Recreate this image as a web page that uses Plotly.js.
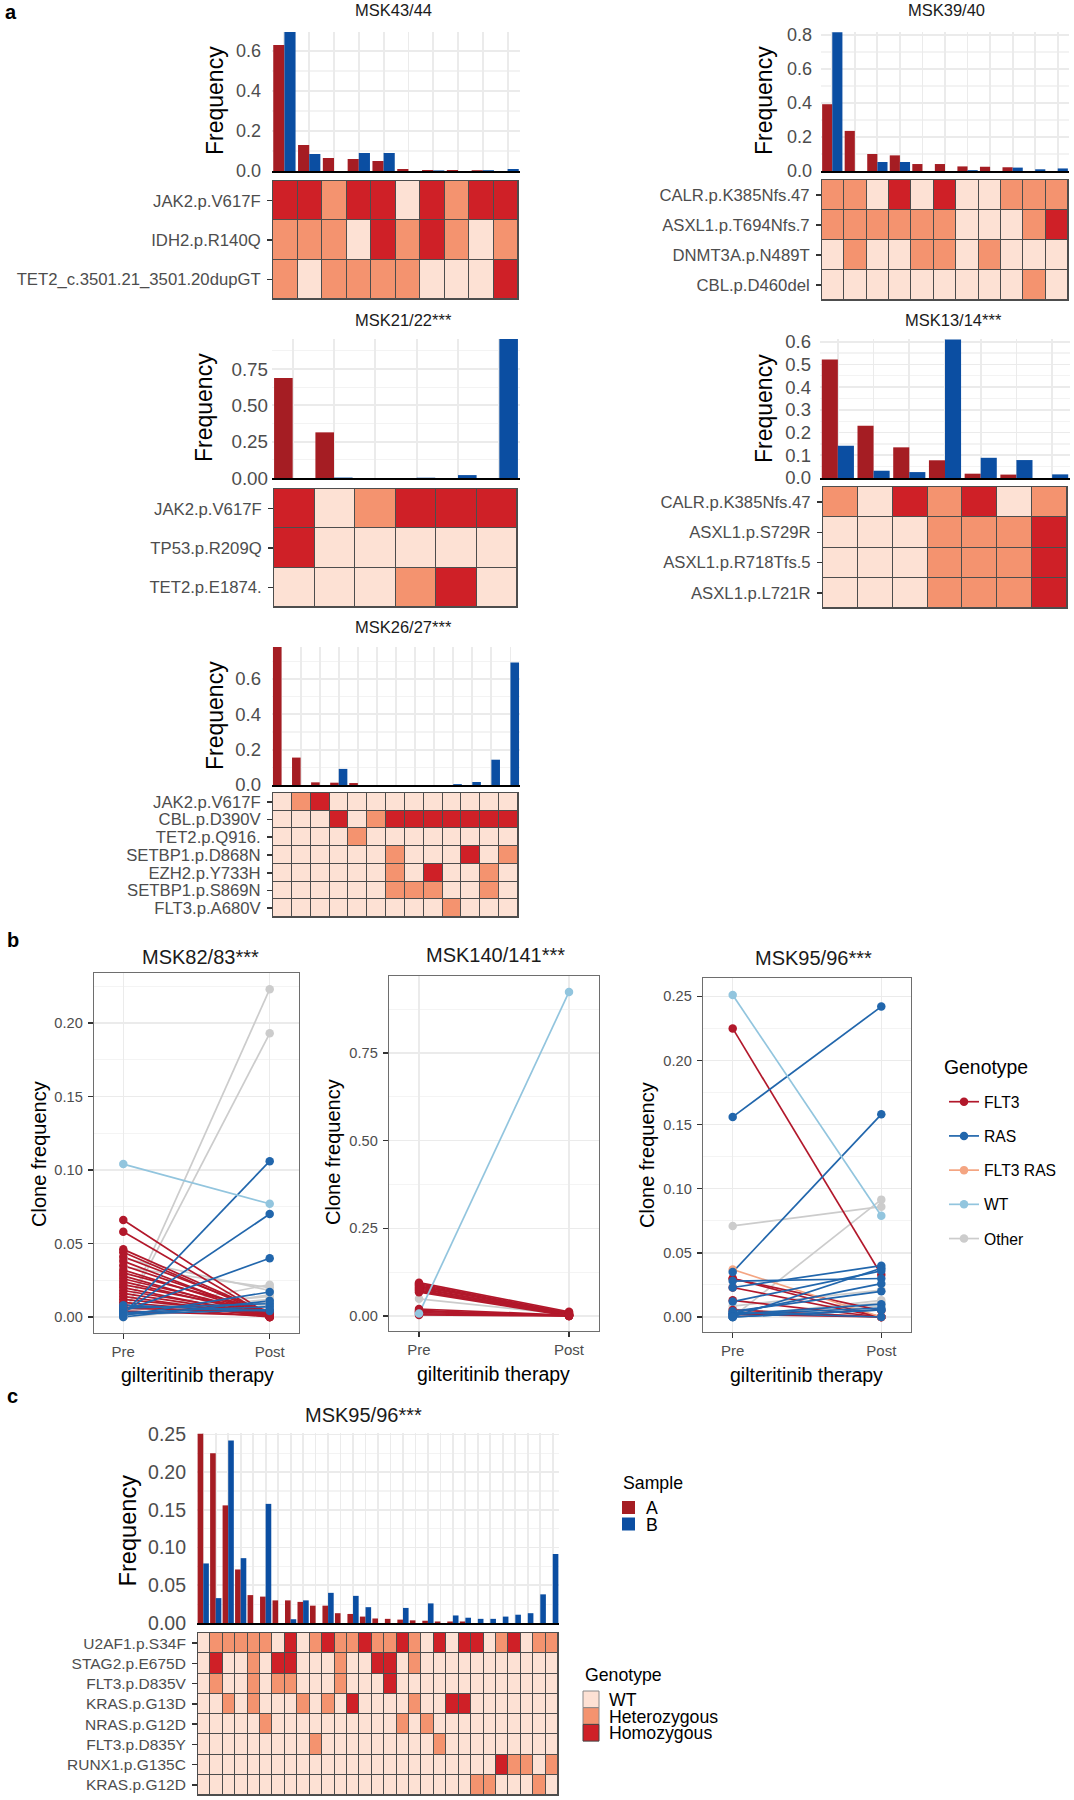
<!DOCTYPE html>
<html><head><meta charset="utf-8">
<script src="https://cdn.plot.ly/plotly-3.0.1.min.js"></script>
<style>body{margin:0;background:#fff}</style>
</head><body><div id="chart" style="width:1074px;height:1800px"></div>
<script>
// ================= DATA =================
// Genotype codes: 0 = WT, 1 = Heterozygous, 2 = Homozygous
// ---- Panel a: MSK43/44
const a1_title = 'MSK43/44';
const a1_A = [0.63, 0.13, 0.065, 0.06, 0.05, 0.01, 0.005, 0.005, 0.004, 0];
const a1_B = [0.695, 0.085, 0, 0.09, 0.09, 0, 0.003, 0, 0.004, 0.01];
const a1_genes = ['JAK2.p.V617F', 'IDH2.p.R140Q', 'TET2_c.3501.21_3501.20dupGT'];
const a1_geno = [
  [2,2,1,2,2,0,2,1,2,2],
  [1,1,1,0,2,1,2,1,0,1],
  [1,0,1,1,1,1,0,0,0,2]];
// ---- MSK39/40
const a2_title = 'MSK39/40';
const a2_A = [0.393, 0.236, 0.100, 0.092, 0.041, 0.041, 0.027, 0.025, 0.022, 0, 0];
const a2_B = [0.816, 0, 0.053, 0.053, 0, 0, 0.005, 0, 0.020, 0.010, 0.015];
const a2_genes = ['CALR.p.K385Nfs.47', 'ASXL1.p.T694Nfs.7', 'DNMT3A.p.N489T', 'CBL.p.D460del'];
const a2_geno = [
  [1,1,0,2,0,2,0,0,1,1,1],
  [1,1,1,1,1,1,0,0,0,1,2],
  [0,1,0,0,1,1,0,1,0,0,0],
  [0,0,0,0,0,0,0,0,0,1,0]];
// ---- MSK21/22
const a3_title = 'MSK21/22***';
const a3_A = [0.688, 0.314, 0, 0, 0, 0];
const a3_B = [0, 0.003, 0, 0.002, 0.02, 0.956];
const a3_genes = ['JAK2.p.V617F', 'TP53.p.R209Q', 'TET2.p.E1874.'];
const a3_geno = [
  [2,0,1,2,2,2],
  [2,0,0,0,0,0],
  [0,0,0,1,2,0]];
// ---- MSK13/14
const a4_title = 'MSK13/14***';
const a4_A = [0.522, 0.23, 0.135, 0.078, 0.019, 0.015, 0];
const a4_B = [0.142, 0.032, 0.026, 0.61, 0.089, 0.079, 0.016];
const a4_genes = ['CALR.p.K385Nfs.47', 'ASXL1.p.S729R', 'ASXL1.p.R718Tfs.5', 'ASXL1.p.L721R'];
const a4_geno = [
  [1,0,2,1,2,0,1],
  [0,0,0,1,1,1,2],
  [0,0,0,1,1,1,2],
  [0,0,0,1,1,1,2]];
// ---- MSK26/27
const a5_title = 'MSK26/27***';
const a5_A = [0.78, 0.155, 0.015, 0.013, 0.011, 0, 0, 0, 0, 0, 0, 0, 0];
const a5_B = [0, 0, 0, 0.091, 0, 0, 0, 0, 0, 0.005, 0.017, 0.143, 0.693];
const a5_genes = ['JAK2.p.V617F', 'CBL.p.D390V', 'TET2.p.Q916.', 'SETBP1.p.D868N', 'EZH2.p.Y733H', 'SETBP1.p.S869N', 'FLT3.p.A680V'];
const a5_geno = [
  [0,1,2,0,0,0,0,0,0,0,0,0,0],
  [0,0,0,2,0,1,2,2,2,2,2,2,2],
  [0,0,0,0,1,0,0,0,0,0,0,0,0],
  [0,0,0,0,0,0,1,0,0,0,2,0,1],
  [0,0,0,0,0,0,1,0,2,0,0,1,0],
  [0,0,0,0,0,0,1,1,1,0,0,1,0],
  [0,0,0,0,0,0,0,0,0,1,0,0,0]];
// ---- Panel c: MSK95/96
const c_title = 'MSK95/96***';
const c_A = [0.251, 0.225, 0.156, 0.071, 0.037, 0.035, 0.030, 0.030, 0.028, 0.023, 0.023, 0.013, 0.012, 0.0085, 0.006, 0.0055, 0.0045, 0.0035, 0.003, 0.002, 0.002, 0.002, 0, 0, 0, 0, 0, 0, 0];
const c_B = [0.079, 0.033, 0.242, 0.086, 0, 0.158, 0, 0.005, 0.030, 0, 0.040, 0, 0.036, 0.021, 0, 0, 0.020, 0, 0.026, 0, 0.010, 0.007, 0.0055, 0.0055, 0.0085, 0.011, 0.013, 0.038, 0.0915];
const c_genes = ['U2AF1.p.S34F', 'STAG2.p.E675D', 'FLT3.p.D835V', 'KRAS.p.G13D', 'NRAS.p.G12D', 'FLT3.p.D835Y', 'RUNX1.p.G135C', 'KRAS.p.G12D'];
const c_geno = [
  [0,1,1,1,1,1,0,2,0,1,2,1,1,2,1,1,2,1,0,2,0,2,2,0,1,2,0,1,1],
  [0,2,0,0,1,0,2,2,0,0,0,1,0,0,2,2,0,1,0,0,0,0,0,0,0,0,0,0,0],
  [0,1,0,0,1,0,1,1,0,0,0,1,0,0,0,2,0,0,0,0,0,0,0,0,0,0,0,0,0],
  [0,0,1,0,1,0,0,0,1,0,1,0,2,0,0,0,0,1,0,0,2,2,0,0,0,0,0,0,0],
  [0,0,0,0,0,1,0,0,0,0,0,0,0,0,0,0,1,0,1,0,0,0,0,0,0,0,0,0,0],
  [0,0,0,0,0,0,0,0,0,1,0,0,0,0,0,0,0,0,0,1,0,0,0,0,0,0,0,0,0],
  [0,0,0,0,0,0,0,0,0,0,0,0,0,0,0,0,0,0,0,0,0,0,0,0,2,1,1,0,1],
  [0,0,0,0,0,0,0,0,0,0,0,0,0,0,0,0,0,0,0,0,0,0,1,1,0,0,0,1,0]];
// ---- Panel b: clone frequency Pre / Post gilteritinib therapy
const b1_title = 'MSK82/83***';
const b1_geno = ['FLT3','FLT3','FLT3','FLT3','FLT3','FLT3','FLT3','FLT3','FLT3','FLT3','FLT3','FLT3','FLT3','FLT3','FLT3','FLT3','FLT3','FLT3','FLT3','FLT3','FLT3','FLT3',
  'RAS','RAS','RAS','RAS','RAS','RAS','RAS','RAS','RAS',
  'WT',
  'Other','Other','Other','Other','Other','Other','Other','Other','Other','Other'];
const b1_pre = [0.066,0.058,0.046,0.044,0.041,0.038,0.035,0.032,0.030,0.028,0.026,0.024,0.022,0.020,0.018,0.016,0.014,0.012,0.010,0.008,0.006,0.004,
  0.002,0.003,0.004,0.001,0.006,0.003,0.002,0.008,0.000,
  0.104,
  0.000,0.001,0.040,0.034,0.003,0.001,0.002,0.000,0.005,0.000];
const b1_post = [0.001,0.000,0.002,0.001,0.003,0.000,0.002,0.001,0.004,0.000,0.002,0.001,0.003,0.000,0.002,0.001,0.000,0.002,0.001,0.000,0.003,0.001,
  0.106,0.070,0.040,0.017,0.009,0.007,0.005,0.004,0.011,
  0.077,
  0.223,0.193,0.018,0.020,0.022,0.015,0.012,0.010,0.014,0.008];
const b2_title = 'MSK140/141***';
const b2_geno = ['FLT3','FLT3','FLT3','FLT3','FLT3','FLT3','FLT3','FLT3','FLT3','FLT3','FLT3','FLT3','FLT3','FLT3','FLT3','FLT3','Other','WT'];
const b2_pre  = [0.095,0.092,0.089,0.086,0.083,0.080,0.077,0.074,0.071,0.068,0.020,0.016,0.013,0.010,0.006,0.003,0.049,0.007];
const b2_post = [0.012,0.008,0.005,0.003,0.010,0.002,0.006,0.001,0.004,0.000,0.002,0.000,0.001,0.000,0.003,0.000,0.004,0.924];
const b3_title = 'MSK95/96***';
const b3_pre = c_A;   // same clones as panel c (sample A = Pre)
const b3_post = c_B;  // sample B = Post
const b3_geno = ['WT','FLT3','RAS','Other','FLT3 RAS','RAS','FLT3','FLT3','RAS','FLT3','RAS','FLT3','RAS','Other','Other','FLT3','RAS','RAS','RAS','FLT3','RAS','RAS','RAS','RAS','Other','Other','Other','RAS','Other'];
const b_xlabels = ['Pre', 'Post'];
const genotypeNames = ['FLT3', 'RAS', 'FLT3 RAS', 'WT', 'Other'];
const sampleNames = ['A', 'B'];
const genoLegend = ['WT', 'Heterozygous', 'Homozygous'];

// ================= STYLE / LAYOUT =================
const W = 1074, H = 1800;
const FONT = '"Liberation Sans", Arial, Helvetica, sans-serif';
const RED = '#A51D23', BLUE = '#0B4EA2';
const GCOL = ['#FDE1D4', '#F4936F', '#CF2027'];
const BORDER = '#4D4D4D';
const TXT = '#4D4D4D';
const LINECOL = {'FLT3':'#B2182B', 'RAS':'#2166AC', 'FLT3 RAS':'#F4A582', 'WT':'#92C5DE', 'Other':'#CCCCCC'};

const layout = {
  width: W, height: H, margin: {l:0, r:0, t:0, b:0},
  paper_bgcolor: '#fff', plot_bgcolor: 'rgba(0,0,0,0)',
  barmode: 'group', bargap: 0.1, bargroupgap: 0,
  font: {family: FONT, color: TXT},
  showlegend: true, hovermode: false,
  annotations: [], shapes: [],
  legend: {x: 944/W, y: 1 - 1085/H, xanchor: 'left', yanchor: 'top',
    font: {size: 15.7, color: '#000'}, tracegroupgap: 10.8, bgcolor: 'rgba(0,0,0,0)', itemwidth: 30}
};
const traces = [];
const sfx = k => (k === 1 ? '' : String(k));
const xdom = (a, b) => [a / W, b / W];
const ydom = (t, b) => [1 - b / H, 1 - t / H];

function ann(text, x, y, size, o) {
  layout.annotations.push(Object.assign({text: text, x: x / W, y: 1 - y / H, xref: 'paper', yref: 'paper',
    showarrow: false, font: {family: FONT, size: size, color: '#000'}, xanchor: 'center', yanchor: 'middle'}, o || {}));
}

function barPanel(k, A, B, box, ymax, dtick, minor, fmt, fs, standoff) {
  const cols = A.map((_, i) => i + 1);
  const xa = 'x' + sfx(k), ya = 'y' + sfx(k);
  traces.push({type: 'bar', x: cols, y: A, name: sampleNames[0], marker: {color: RED, line: {width: 0}}, xaxis: xa, yaxis: ya, showlegend: false});
  traces.push({type: 'bar', x: cols, y: B, name: sampleNames[1], marker: {color: BLUE, line: {width: 0}}, xaxis: xa, yaxis: ya, showlegend: false});
  layout['xaxis' + sfx(k)] = {domain: xdom(box[0], box[1]), anchor: ya, range: [0.5, cols.length + 0.5],
    tickvals: cols, showticklabels: false, ticks: '', showgrid: true, gridcolor: '#EBEBEB', gridwidth: 1.8,
    showline: true, linecolor: '#000', linewidth: 1.6, zeroline: false, fixedrange: true};
  layout['yaxis' + sfx(k)] = {domain: ydom(box[2], box[3]), anchor: xa, range: [0, ymax], tick0: 0, dtick: dtick,
    tickformat: fmt, showgrid: true, gridcolor: '#EBEBEB', gridwidth: 1.8,
    minor: {dtick: minor, tick0: 0, showgrid: true, gridcolor: '#F3F3F3', gridwidth: 1.2},
    ticks: '', tickfont: {size: fs, color: TXT}, ticklabelstandoff: standoff, zeroline: false, showline: false, fixedrange: true};
}

function hmPanel(k, genes, geno, box, fs, standoff) {
  const cols = geno[0].map((_, i) => i + 1);
  const xa = 'x' + sfx(k), ya = 'y' + sfx(k);
  traces.push({type: 'heatmap', x: cols, y: genes, z: genes.map(() => cols.map(() => 0)), zmin: 0, zmax: 1,
    colorscale: [[0, BORDER], [1, BORDER]], showscale: false, xaxis: xa, yaxis: ya});
  traces.push({type: 'heatmap', x: cols, y: genes, z: geno, zmin: 0, zmax: 2,
    colorscale: [[0, GCOL[0]], [0.5, GCOL[1]], [1, GCOL[2]]], xgap: 1, ygap: 1, showscale: false, xaxis: xa, yaxis: ya});
  layout['xaxis' + sfx(k)] = {domain: xdom(box[0], box[1]), anchor: ya, range: [0.5, cols.length + 0.5],
    showticklabels: false, ticks: '', showgrid: false, zeroline: false, showline: true, mirror: true,
    linecolor: BORDER, linewidth: 1, fixedrange: true};
  layout['yaxis' + sfx(k)] = {domain: ydom(box[2], box[3]), anchor: xa, type: 'category', range: [genes.length - 0.5, -0.5],
    tickmode: 'array', tickvals: genes, ticktext: genes,
    ticks: 'outside', ticklen: 5, tickwidth: 1.6, tickcolor: '#333', tickfont: {size: fs, color: TXT},
    ticklabelstandoff: standoff, showgrid: false, zeroline: false, showline: true, mirror: true,
    linecolor: BORDER, linewidth: 1, fixedrange: true};
}

const drawOrder = ['Other', 'FLT3', 'FLT3 RAS', 'RAS', 'WT'];
function linePanel(k, pre, post, geno, box, yr, dtick, minor) {
  const xa = 'x' + sfx(k), ya = 'y' + sfx(k);
  ['lines', 'markers'].forEach(mode => {
    drawOrder.forEach(g => {
      const xs = [], ys = [];
      geno.forEach((gg, i) => { if (gg === g) { xs.push(0, 1, null); ys.push(pre[i], post[i], null); } });
      if (!xs.length) return;
      traces.push({type: 'scatter', mode: mode, x: xs, y: ys, connectgaps: false, cliponaxis: false,
        line: {color: LINECOL[g], width: 1.7}, marker: {color: LINECOL[g], size: 8.5},
        xaxis: xa, yaxis: ya, showlegend: false, legendgroup: g});
    });
  });
  layout['xaxis' + sfx(k)] = {domain: xdom(box[0], box[1]), anchor: ya, range: [-0.2, 1.2],
    tickvals: [0, 1], ticktext: b_xlabels, ticks: 'outside', ticklen: 5, tickwidth: 1.3, tickcolor: '#333',
    tickfont: {size: 15, color: TXT}, showgrid: true, gridcolor: '#EBEBEB', gridwidth: 1.3,
    showline: true, mirror: true, linecolor: '#6E6E6E', linewidth: 1.3, zeroline: false, fixedrange: true};
  layout['yaxis' + sfx(k)] = {domain: ydom(box[2], box[3]), anchor: xa, range: yr, tick0: 0, dtick: dtick,
    tickformat: '.2f', ticks: 'outside', ticklen: 5, tickwidth: 1.3, tickcolor: '#333',
    tickfont: {size: 14.6, color: TXT}, ticklabelstandoff: 2, showgrid: true, gridcolor: '#EBEBEB', gridwidth: 1.3,
    minor: {dtick: minor, tick0: 0, showgrid: true, gridcolor: '#F4F4F4', gridwidth: 1, ticks: ''},
    showline: true, mirror: true, linecolor: '#6E6E6E', linewidth: 1.3, zeroline: false, fixedrange: true};
}

// ---- panel a
barPanel(1, a1_A, a1_B, [272, 520, 32, 171], 0.695, 0.2, 0.1, '.1f', 18, 10);
hmPanel(2, a1_genes, a1_geno, [273, 518, 181, 299], 16.7, 3);
barPanel(3, a2_A, a2_B, [821, 1069, 32, 171], 0.818, 0.2, 0.1, '.1f', 18, 8);
hmPanel(4, a2_genes, a2_geno, [822, 1068, 180, 300], 16.7, 3);
barPanel(5, a3_A, a3_B, [272, 520, 339, 478], 0.956, 0.25, 0.125, '.2f', 18.8, 3);
hmPanel(6, a3_genes, a3_geno, [274, 517, 489, 607], 16.7, 3);
barPanel(7, a4_A, a4_B, [820, 1070, 339, 478], 0.612, 0.1, 0.05, '.1f', 18.5, 8);
hmPanel(8, a4_genes, a4_geno, [823, 1067, 487, 608], 16.7, 3);
barPanel(9, a5_A, a5_B, [272, 520, 647, 785], 0.78, 0.2, 0.1, '.1f', 18.5, 10);
hmPanel(10, a5_genes, a5_geno, [273, 518, 793, 917], 16.7, 3);
// ---- panel c
barPanel(11, c_A, c_B, [197, 559, 1433, 1623], 0.252, 0.05, 0.025, '.2f', 19.5, 10);
hmPanel(12, c_genes, c_geno, [198, 558, 1633, 1795], 15.5, 3);
// ---- panel b
linePanel(13, b1_pre, b1_post, b1_geno, [94, 299, 973, 1333], [-0.0109, 0.234], 0.05, 0.025);
linePanel(14, b2_pre, b2_post, b2_geno, [389, 599, 976, 1331], [-0.0428, 0.9695], 0.25, 0.125);
linePanel(15, b3_pre, b3_post, b3_geno, [703, 911, 978, 1332], [-0.0117, 0.2643], 0.05, 0.025);
// legend entries (no data, legend only)
genotypeNames.forEach(g => traces.push({type: 'scatter', mode: 'lines+markers', x: [null], y: [null], name: g,
  legendgroup: g, showlegend: true, line: {color: LINECOL[g], width: 1.7}, marker: {color: LINECOL[g], size: 8.5},
  xaxis: 'x15', yaxis: 'y15'}));
ann('Genotype', 942, 1067, 19.4, {xanchor: 'left'});

// ---- texts
ann('<b>a</b>', 4, 0, 20, {xanchor: 'left', yanchor: 'top', borderpad: 0});
ann('<b>b</b>', 5, 940, 20, {xanchor: 'left'});
ann('<b>c</b>', 5, 1396, 20, {xanchor: 'left'});
ann(a1_title, 393, 0, 16.5, {yanchor: 'top', borderpad: 0, font: {family: FONT, size: 16.5, color: '#1a1a1a'}});
ann(a2_title, 946, 0, 16.5, {yanchor: 'top', borderpad: 0, font: {family: FONT, size: 16.5, color: '#1a1a1a'}});
[[a3_title, 403, 320], [a4_title, 953, 319.5], [a5_title, 403, 627]]
  .forEach(t => ann(t[0], t[1], t[2], 16.5, {font: {family: FONT, size: 16.5, color: '#1a1a1a'}}));
[[b1_title, 200, 956.5], [b2_title, 495, 955], [b3_title, 813, 958], [c_title, 363, 1415]]
  .forEach(t => ann(t[0], t[1], t[2], 20, {font: {family: FONT, size: 20, color: '#1a1a1a'}}));
[[215, 101], [764, 101], [204, 408], [764, 409], [215, 716]].forEach(p => ann('Frequency', p[0], p[1], 23, {textangle: -90}));
ann('Frequency', 127.5, 1531, 23.6, {textangle: -90});
[[39, 1154], [333, 1152], [647, 1155]].forEach(p => ann('Clone frequency', p[0], p[1], 20, {textangle: -90}));
[[197, 1374.5], [493, 1373.5], [806, 1374.5]].forEach(p => ann('gilteritinib therapy', p[0], p[1], 19.5, {borderpad: 0}));

// ---- panel c legends (drawn keys; stacked labels as one multi-line text)
function key(x0, x1, y0, y1, fill, lc) {
  layout.shapes.push({type: 'rect', xref: 'paper', yref: 'paper', x0: x0 / W, x1: x1 / W, y0: 1 - y1 / H, y1: 1 - y0 / H,
    fillcolor: fill, line: {color: lc || fill, width: lc ? 1 : 0}});
}
const big = (s, px) => '<span style="font-size:' + px + 'px">' + s + '</span>';
ann('Sample', 621, 1483, 17.7, {xanchor: 'left'});
[RED, BLUE].forEach((c, i) => key(622, 635, 1501 + i * 16.5, 1514 + i * 16.5, c));
ann(sampleNames.map(s => big(s, 17.7)).join('<br>'), 645, 1516, 16.5 / 1.3, {xanchor: 'left', align: 'left', borderpad: 0});
ann('Genotype', 583, 1675, 17.7, {xanchor: 'left'});
GCOL.forEach((c, i) => key(583, 599, 1691 + i * 16.7, 1707.7 + i * 16.7, c, i === 2 ? '#444' : '#888'));
ann(genoLegend.map(s => big(s, 17.7)).join('<br>'), 608, 1716.5, 16.7 / 1.3, {xanchor: 'left', align: 'left', borderpad: 0});

Plotly.newPlot('chart', traces, layout, {staticPlot: true, displayModeBar: false});
</script></body></html>
